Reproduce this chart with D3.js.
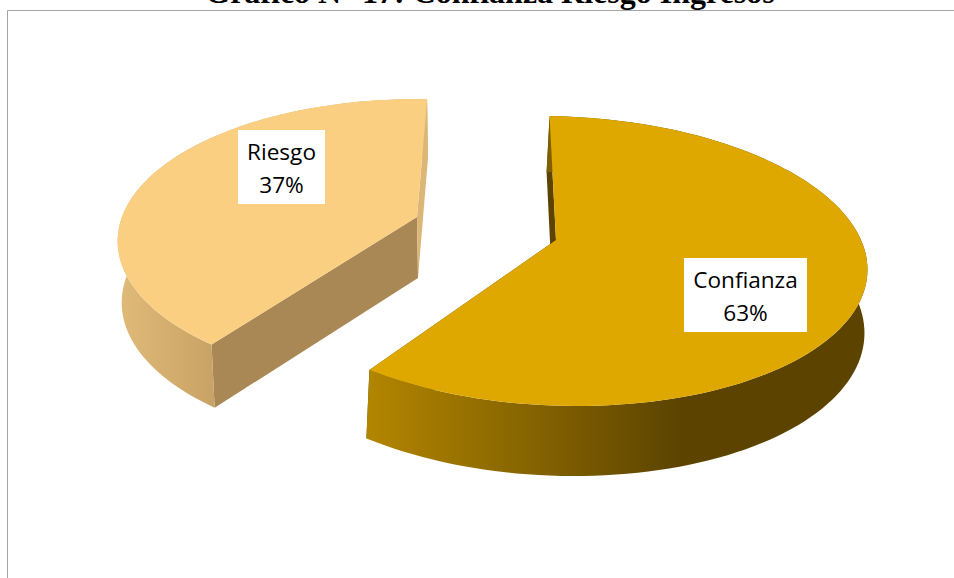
<!DOCTYPE html>
<html>
<head>
<meta charset="utf-8">
<script src="https://cdn.jsdelivr.net/npm/d3@7"></script>
<style>
    html, body { margin: 0; padding: 0; background: #fff; overflow: hidden; }
    svg { display: block; }
</style>
</head>
<body>
<div id="chart"></div>
<script>
var categories = ["Confianza", "Riesgo"];
var percents = [63, 37];
var chartTitle = "Gráfico N° 17: Confianza Riesgo Ingresos";

(function() {
    var width = 954,
        height = 578;

    var svg = d3.select("#chart")
        .append("svg")
        .attr("width", width)
        .attr("height", height);

    var defs = svg.append("defs");

    function gradient(id, stops, x1, x2) {
        var g = defs.append("linearGradient")
            .attr("id", id)
            .attr("gradientUnits", "userSpaceOnUse")
            .attr("x1", x1).attr("x2", x2)
            .attr("y1", 0).attr("y2", 0);
        stops.forEach(function(s) {
            g.append("stop").attr("offset", s[0]).attr("stop-color", s[1]);
        });
    }

    gradient("wall-0", [[0, "#b38600"], [1, "#5c4400"]], 367, 680);
    gradient("wall-1", [[0, "#e0ba78"], [0.32, "#c8a265"], [0.32, "#dcb676"], [1, "#dcb676"]], 118, 427);

    // frame of the chart area
    svg.append("path")
        .attr("d", "M7.5,578V10.5H954")
        .attr("fill", "none")
        .attr("stroke", "#a6a6a6")
        .attr("stroke-width", 1);

    svg.append("text")
        .attr("x", 490)
        .attr("y", 3)
        .attr("text-anchor", "middle")
        .attr("font-family", "Liberation Serif")
        .attr("font-weight", "bold")
        .attr("font-size", 32)
        .text(chartTitle);

    var deg = Math.PI / 180;

    var pie = d3.pie().sort(null);
    var slices = pie(percents);

    // the 3d view squeezes the big slice a bit, so pie angle -> drawn angle
    var drawnAngle = d3.scaleLinear()
        .domain([0, 226.8 * deg, 360 * deg])
        .range([1.5 * deg, 216.5 * deg, 362.8 * deg]);
    var gap = 0.5 * deg;

    var views = [
        {
            persp: 0.145,
            top: {x: 556, y: 240, rx: 305, ry: 141.9, skew: 18},
            bottom: {x: 553, y: 302, rx: 305, ry: 148.8, skew: 18},
            side: "url(#wall-0)", cut: "#5c4400", cutEnd: "#5c4400", face: "#dfa800"
        },
        {
            persp: 0.17,
            top: {x: 417, y: 217, rx: 295, ry: 138, skew: 0},
            bottom: {x: 418, y: 278, rx: 292, ry: 140.4, skew: 0},
            side: "url(#wall-1)", cut: "#a98855", cutEnd: "#dcb676", face: "#facf82"
        }
    ];

    // point on a tilted disc, with the near side drawn larger
    function project(disc, t, persp) {
        var X = Math.sin(t),
            Y = -Math.cos(t),
            w = 1 - persp * Y;
        return [disc.x + (disc.rx * X + disc.skew * Y) / w, disc.y + disc.ry * Y / w];
    }

    function rim(disc, a0, a1, persp) {
        return d3.range(0, 121).map(function(i) {
            return project(disc, a0 + (a1 - a0) * i / 120, persp);
        });
    }

    var line = d3.line();

    var groups = svg.selectAll(".slice")
        .data(slices)
        .enter().append("g")
        .attr("class", "slice");

    groups.each(function(d, i) {
        var g = d3.select(this),
            v = views[i],
            p = v.persp,
            a0 = drawnAngle(d.startAngle) + gap,
            a1 = drawnAngle(d.endAngle) - gap,
            c0 = [v.top.x, v.top.y],
            c1 = [v.bottom.x, v.bottom.y];

        // cut faces first, the top covers what is hidden
        g.append("path")
            .attr("d", line([c0, project(v.top, a0, p), project(v.bottom, a0, p), c1]) + "Z")
            .attr("fill", v.cut);
        g.append("path")
            .attr("d", line([c0, project(v.top, a1, p), project(v.bottom, a1, p), c1]) + "Z")
            .attr("fill", v.cutEnd);

        g.append("path")
            .attr("d", line(rim(v.top, a0, a1, p).concat(rim(v.bottom, a1, a0, p))) + "Z")
            .attr("fill", v.side);

        g.append("path")
            .attr("d", line([c0].concat(rim(v.top, a0, a1, p))) + "Z")
            .attr("fill", v.face);
    });

    var labelBoxes = [
        {x: 684, y: 258, w: 123, h: 74},
        {x: 238, y: 130, w: 87, h: 74}
    ];

    var labels = svg.selectAll(".label")
        .data(slices)
        .enter().append("g")
        .attr("class", "label");

    labels.append("rect")
        .attr("x", function(d, i) { return labelBoxes[i].x; })
        .attr("y", function(d, i) { return labelBoxes[i].y; })
        .attr("width", function(d, i) { return labelBoxes[i].w; })
        .attr("height", function(d, i) { return labelBoxes[i].h; })
        .attr("fill", "#fff");

    labels.append("text")
        .attr("x", function(d, i) { return labelBoxes[i].x + labelBoxes[i].w / 2; })
        .attr("y", function(d, i) { return labelBoxes[i].y + 30; })
        .attr("text-anchor", "middle")
        .attr("font-family", "Open Sans")
        .attr("font-size", 22.6)
        .text(function(d, i) { return categories[i]; });

    labels.append("text")
        .attr("x", function(d, i) { return labelBoxes[i].x + labelBoxes[i].w / 2; })
        .attr("y", function(d, i) { return labelBoxes[i].y + 63; })
        .attr("text-anchor", "middle")
        .attr("font-family", "Open Sans")
        .attr("font-size", 22.6)
        .text(function(d) { return d.data + "%"; });
})();
</script>
</body>
</html>
